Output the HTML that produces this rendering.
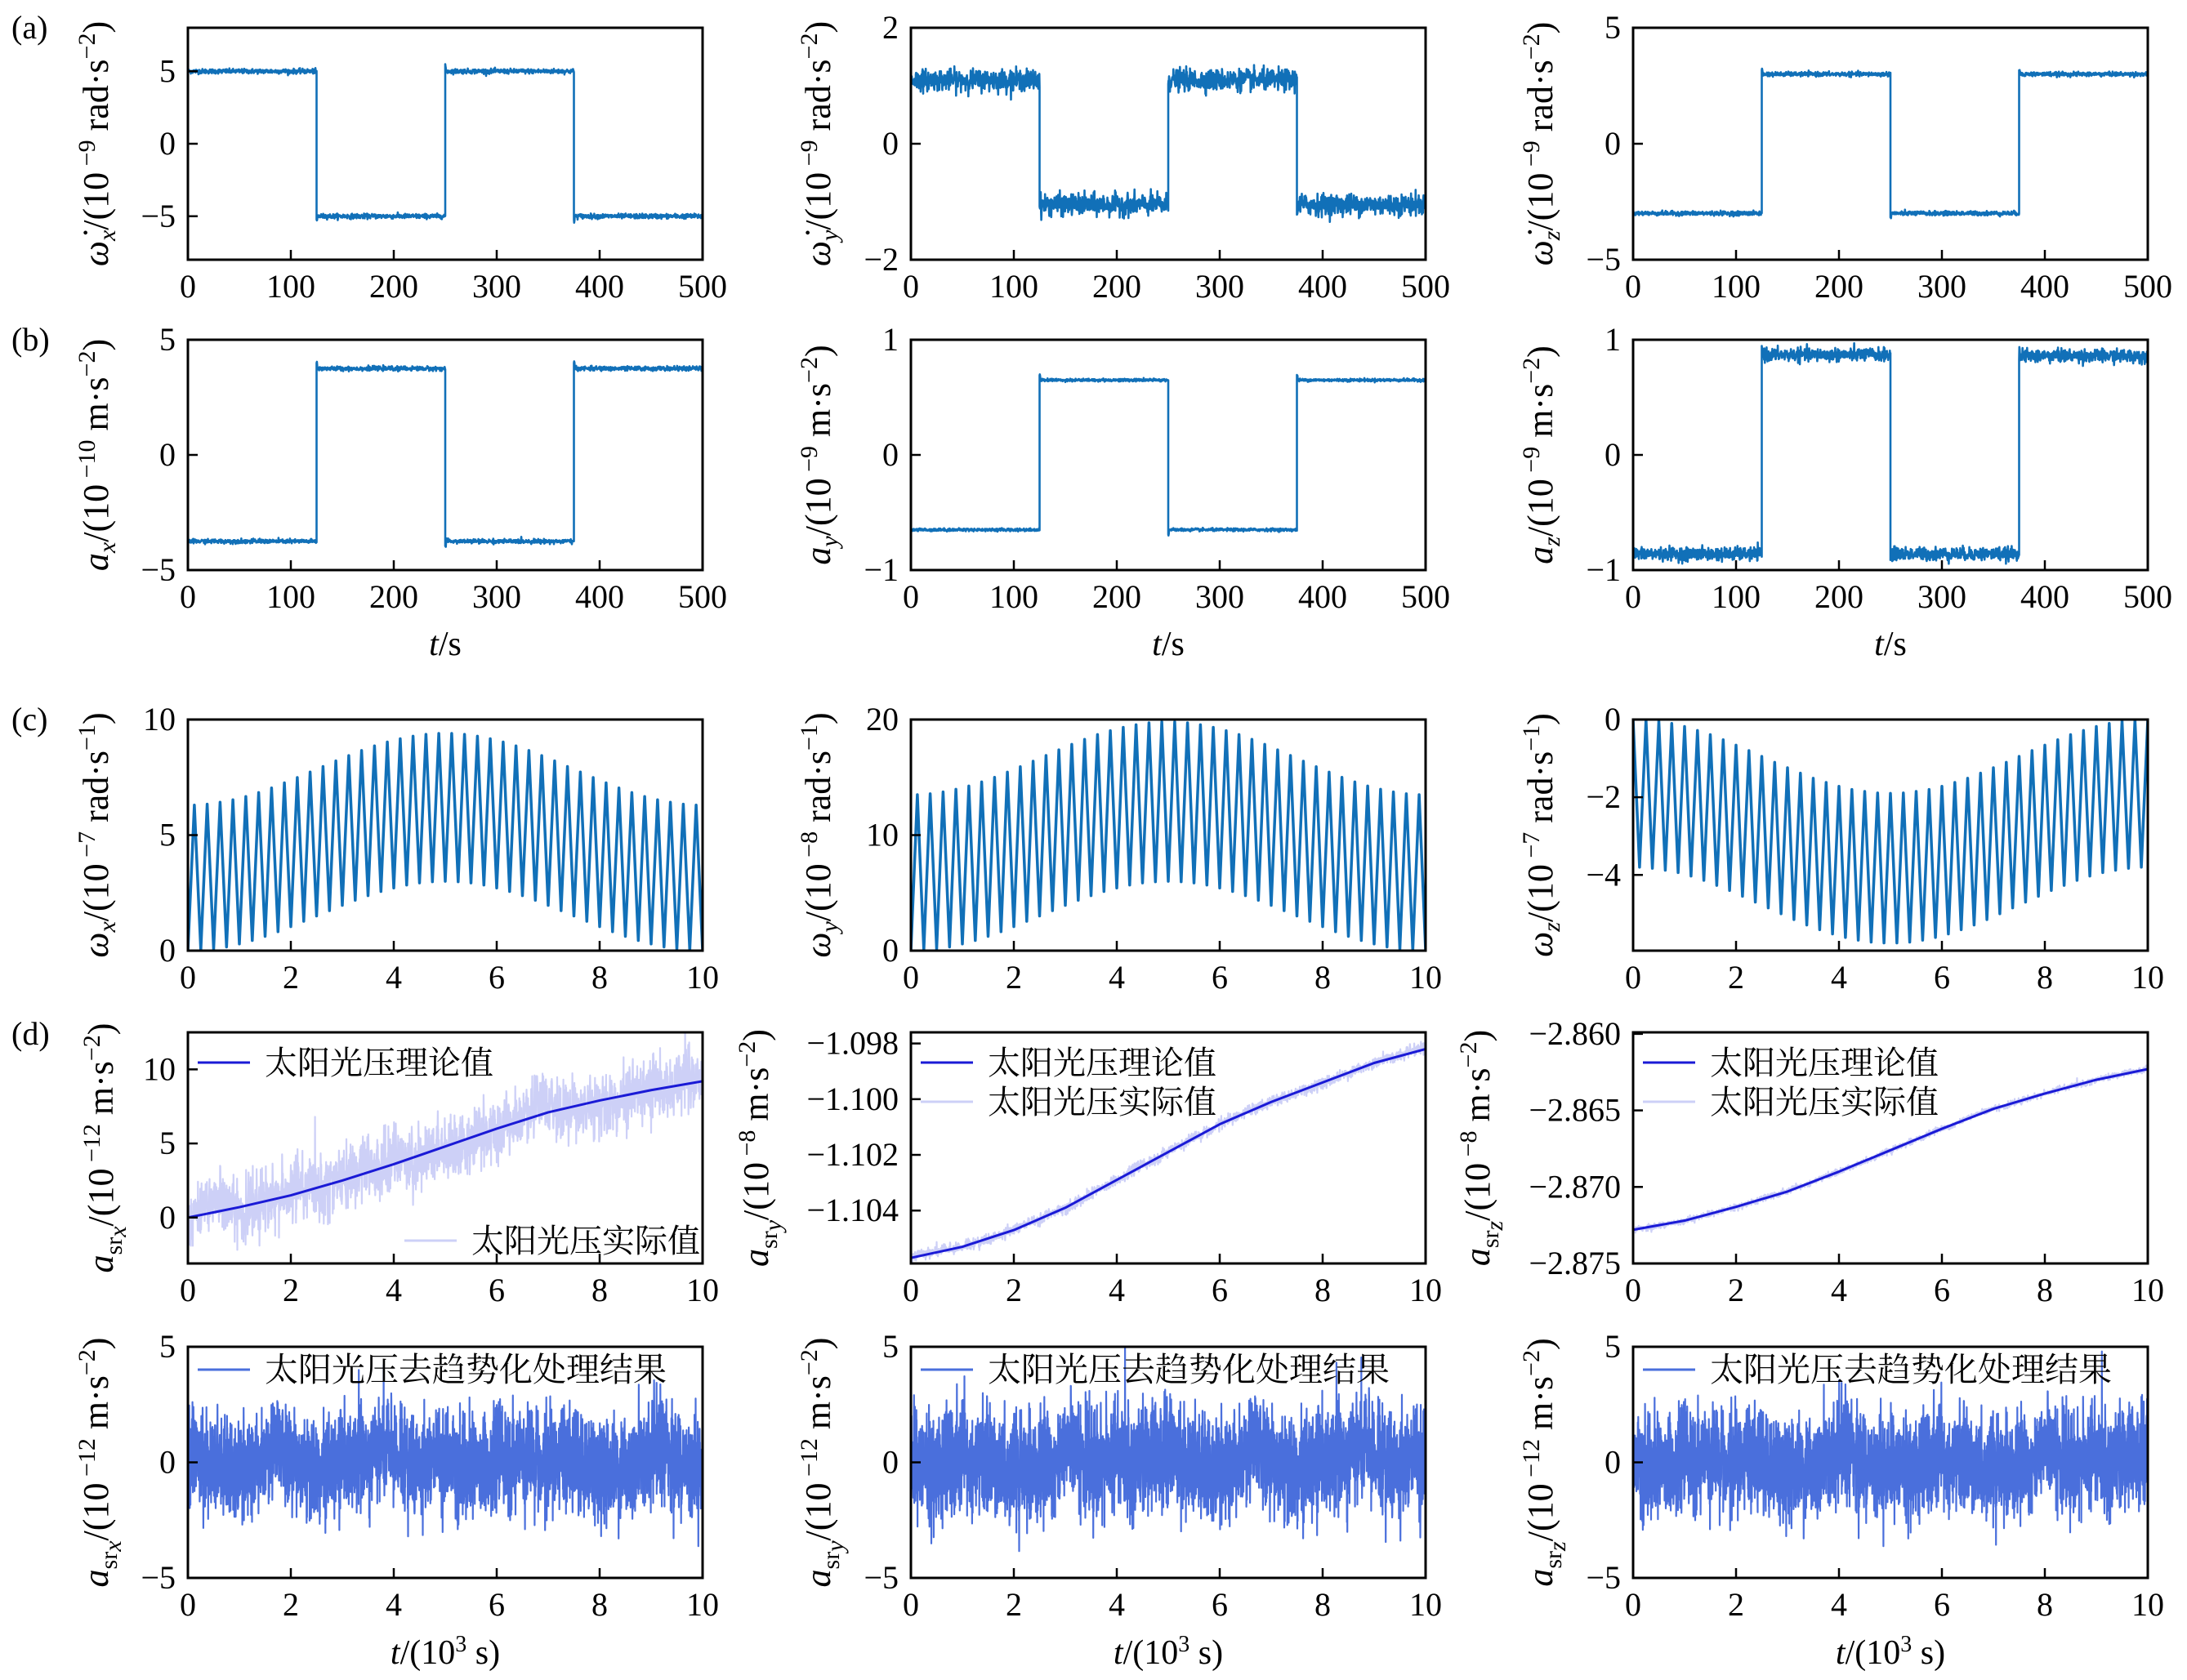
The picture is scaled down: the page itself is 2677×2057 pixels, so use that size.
<!DOCTYPE html>
<html><head><meta charset="utf-8"><style>
html,body{margin:0;padding:0;background:#fff}
svg{display:block}
text{font-family:"Liberation Serif","Noto Serif CJK SC",serif;fill:#000}
.cjk{font-family:"Liberation Serif","Noto Serif CJK SC","Noto Sans CJK SC",serif}
</style></head><body>
<svg id="fig" xmlns="http://www.w3.org/2000/svg" width="2677" height="2057" viewBox="0 0 2677 2057"></svg>
<script>
// ---------- data ----------
const sqSwitch=[0,125,250,375,500];
const axLevels=[5,-5,5,-5];
const ayLevels=[1.1,-1.05,1.1,-1.05];
const azLevels=[-3,3,-3,3];
const bxLevels=[-3.75,3.75,-3.75,3.75];
const byLevels=[-0.65,0.65,-0.65,0.65];
const bzLevels=[-0.86,0.87,-0.86,0.86];
const sqNoise=[0.08,0.09,0.045,0.045,0.006,0.028];

const cxPeaksHalf=[6.30,6.34,6.42,6.53,6.67,6.84,7.04,7.26,7.49,7.73,7.97,8.21,8.44,8.66,8.86,9.03,9.17,9.28,9.36,9.40];
const cxTroughsHalf=[0,0.02,0.07,0.16,0.29,0.44,0.62,0.82,1.04,1.27,1.5,1.73,1.96,2.18,2.38,2.56,2.71,2.84,2.93,2.98,3.0];
const cyPeaksHalf=[13.50,13.58,13.74,13.97,14.25,14.60,15.00,15.45,15.92,16.40,16.89,17.38,17.85,18.29,18.70,19.04,19.33,19.55,19.72,19.80];
const cyTroughsHalf=[0,0.04,0.14,0.32,0.58,0.88,1.24,1.64,2.08,2.54,3.0,3.46,3.92,4.36,4.76,5.12,5.42,5.68,5.86,5.96,6.0];
const czTopHalf=[0,-0.01,-0.04,-0.10,-0.18,-0.28,-0.39,-0.52,-0.66,-0.80,-0.95,-1.10,-1.24,-1.38,-1.51,-1.62,-1.72,-1.80,-1.85,-1.89,-1.90];
const czBottomHalf=[-3.80,-3.83,-3.88,-3.94,-4.03,-4.14,-4.27,-4.40,-4.55,-4.70,-4.85,-5.00,-5.15,-5.29,-5.41,-5.52,-5.61,-5.68,-5.73,-5.75];

const dT=[0,1,2,3,4,5,6,7,8,9,10];
const dxTheory=[0,0.7,1.5,2.5,3.6,4.8,6.0,7.1,7.9,8.6,9.2];
const dyTheory=[-1.1057,-1.1053,-1.1047,-1.1039,-1.1029,-1.1019,-1.1009,-1.1001,-1.0994,-1.0987,-1.0982];
const dzTheory=[-2.8728,-2.8722,-2.8713,-2.8703,-2.8690,-2.8676,-2.8662,-2.8649,-2.8639,-2.8630,-2.8623];
const dActualNoise=[1.3,0.00012,0.00012];
const detrendNoise=[1.3,1.4,1.3];

const tickSq=[0,100,200,300,400,500];
const tickK=[0,2,4,6,8,10];

// ---------- layout ----------
const svg=document.getElementById('fig');
const NS='http://www.w3.org/2000/svg';
const cols=[230,1115,1999], colW=630;
const rows=[[34,318],[416,698],[881,1164],[1264,1547],[1649,1932]];
const ylabX=[[118,1002,1886],[118,1002,1886],[118,1002,1886],[124,926,1809],[118,1002,1886]];
const BLUE='#1170b8';
let seed=12345;
function rnd(){seed=(seed*1103515245+12345)%2147483648;return seed/2147483648;}
function gauss(){let u=rnd()||1e-9,v=rnd();return Math.sqrt(-2*Math.log(u))*Math.cos(2*Math.PI*v);}
function el(tag,attrs,parent){const e=document.createElementNS(NS,tag);for(const k in attrs)e.setAttribute(k,attrs[k]);(parent||svg).appendChild(e);return e;}
function mirror(a,dropMid){const r=a.slice().reverse();return a.concat(dropMid?r.slice(1):r);}

function panel(name,ri,ci,xr,yr,yt,ytl,xt){
  const x0=cols[ci],x1=x0+colW,y0=rows[ri][0],y1=rows[ri][1];
  const g=el('g',{});
  
  
  const sx=v=>x0+(v-xr[0])/(xr[1]-xr[0])*(x1-x0);
  const sy=v=>y1-(v-yr[0])/(yr[1]-yr[0])*(y1-y0);
  const cid='c'+name;
  const cp=el('clipPath',{id:cid},g);el('rect',{x:x0,y:y0,width:x1-x0,height:y1-y0},cp);
  const plot=el('g',{'clip-path':'url(#'+cid+')'},g);
  const ax=el('g',{},g);
  
  
  xt.forEach(v=>{
    const X=sx(v);
    el('line',{x1:X,x2:X,y1:y1,y2:y1-12,stroke:'#000','stroke-width':2.5},ax);
    const t=el('text',{x:X,y:y1+46,'font-size':40,'text-anchor':'middle'},ax);t.textContent=String(v);
    
    
  });
  yt.forEach((v,i)=>{
    const Y=sy(v);
    el('line',{x1:x0,x2:x0+12,y1:Y,y2:Y,stroke:'#000','stroke-width':2.5},ax);
    const t=el('text',{x:x0-15,y:Y+13,'font-size':40,'text-anchor':'end'},ax);t.textContent=ytl[i];
    
    
  });
  el('rect',{x:x0,y:y0,width:x1-x0,height:y1-y0,fill:'none',stroke:'#000','stroke-width':3},g);
  return {g,plot,sx,sy,x0,x1,y0,y1};
}
function pathFrom(pts,sx,sy){let d='';pts.forEach((p,i)=>{d+=(i?'L':'M')+sx(p[0]).toFixed(1)+' '+sy(p[1]).toFixed(2);});return d;}
function addLine(P,pts,color,w,nm){const p=el('path',{d:pathFrom(pts,P.sx,P.sy),fill:'none',stroke:color,'stroke-width':w,'stroke-linejoin':'round'},P.plot);return p;}

function yLabel(ri,ci,parts){
  const cx=ylabX[ri][ci],cy=(rows[ri][0]+rows[ri][1])/2;
  const t=el('text',{x:0,y:0,'font-size':44,'text-anchor':'middle',transform:`translate(${cx+14},${cy}) rotate(-90)`});
  
  
  parts.forEach(p=>{const s=el('tspan',{},t);s.textContent=p[0];
    if(p[1].includes('i'))s.setAttribute('font-style','italic');
    if(p[1].includes('b')){s.setAttribute('font-size',30);s.setAttribute('dy',p[2]||9);}
    if(p[1].includes('p')){s.setAttribute('font-size',30);s.setAttribute('dy',p[2]||-16);}
    if(p[1].includes('n')){s.setAttribute('dy',p[2]);}
  });
}
function unitParts(sym,sub,exp,unit,uexp,srsub){
  const a=[[sym,'i']];
  if(srsub){a.push(['sr','b',11]);a.push([sub,'bi',5]);a.push(['/(10','n',-16]);}
  else {a.push([sub,'bi',9]);a.push(['/(10','n',-9]);}
  a.push([' '+exp,'p',-16]);a.push(['  '+unit,'n',16]);a.push([uexp,'p',-16]);a.push([')','n',16]);
  return a;
}

// ---------- square-wave panels ----------
function sqPanel(name,ri,ci,levels,noise,yr,yt,ytl){
  const P=panel(name,ri,ci,[0,500],yr,yt,ytl,tickSq);
  const pts=[];
  for(let s=0;s<levels.length;s++){
    const a=sqSwitch[s],b=sqSwitch[s+1],n=450;
    for(let k=0;k<=n;k++){const t=a+(b-a)*k/n;let v=levels[s]+noise*gauss();
      if(k<3&&s>0)v+= (levels[s]-levels[s-1])*0.03;pts.push([t,v]);}
  }
  addLine(P,pts,BLUE,2.6,name+'-series');
  return P;
}
const mt=v=>v<0?'\u2212'+Math.abs(v):String(v);
sqPanel('panel-a-x',0,0,axLevels,sqNoise[0],[-8,8],[-5,0,5],[-5,0,5].map(mt));
sqPanel('panel-a-y',0,1,ayLevels,sqNoise[1],[-2,2],[-2,0,2],[-2,0,2].map(mt));
sqPanel('panel-a-z',0,2,azLevels,sqNoise[2],[-5,5],[-5,0,5],[-5,0,5].map(mt));
sqPanel('panel-b-x',1,0,bxLevels,sqNoise[3],[-5,5],[-5,0,5],[-5,0,5].map(mt));
sqPanel('panel-b-y',1,1,byLevels,sqNoise[4],[-1,1],[-1,0,1],[-1,0,1].map(mt));
sqPanel('panel-b-z',1,2,bzLevels,sqNoise[5],[-1,1],[-1,0,1],[-1,0,1].map(mt));

// ---------- triangle panels ----------
function triPanel(name,ci,lowHalf,highHalf,yr,yt){
  const P=panel(name,2,ci,[0,10],yr,yt,yt.map(mt),tickK);
  const lows=mirror(lowHalf,true), highs=mirror(highHalf,false);
  const pts=[];
  for(let k=0;k<40;k++){pts.push([0.25*k,lows[k]]);pts.push([0.25*k+0.125,highs[k]]);}
  pts.push([10,lows[40]]);
  addLine(P,pts,BLUE,3.5,name+'-series');
}
triPanel('panel-c-x',0,cxTroughsHalf,cxPeaksHalf,[0,10],[0,5,10]);
triPanel('panel-c-y',1,cyTroughsHalf,cyPeaksHalf,[0,20],[0,10,20]);
triPanel('panel-c-z',2,czTopHalf,czBottomHalf,[-5.95,0],[-4,-2,0]);

// ---------- d panels ----------
function interp(t){const i=Math.min(9,Math.floor(t));return [i,t-i];}
function legendEntry(P,x,y,color,w,label,nm,fs){
  const g=el('g',{},P.g);
  
  
  el('line',{x1:x,x2:x+64,y1:y,y2:y,stroke:color,'stroke-width':w},g);
  const t=el('text',{x:x+82,y:y+14,'font-size':fs||40,class:'cjk'},g);t.textContent=label;
}
const THEORY='#1a1ad6', ACTUAL='#cdd0f7', DET='#4a6fdc';
function dPanel(name,ci,theory,noise,yr,yt,ytl,legendMode){
  const P=panel(name,3,ci,[0,10],yr,yt,ytl,tickK);
  const act=[];let lf=0;
  for(let k=0;k<=2000;k++){const t=10*k/2000;const [i,f]=interp(t);
    const base=theory[i]+(theory[i+1]-theory[i])*f; lf=0.97*lf+0.03*gauss()*4;
    act.push([t,base+noise*(0.8*gauss()+0.5*lf)]);}
  addLine(P,act,ACTUAL,2.2,name+'-actual');
  addLine(P,dT.map((t,i)=>[t,theory[i]]),THEORY,3,name+'-theory');
  if(legendMode===0){legendEntry(P,P.x0+12,P.y0+37,THEORY,3,'太阳光压理论值','legend-theory');
    legendEntry(P,P.x0+265,P.y0+255,ACTUAL,3,'太阳光压实际值','legend-actual');}
  else{legendEntry(P,P.x0+12,P.y0+37,THEORY,3,'太阳光压理论值','legend-theory');
    legendEntry(P,P.x0+12,P.y0+85,ACTUAL,3,'太阳光压实际值','legend-actual');}
}
dPanel('panel-d-x',0,dxTheory,dActualNoise[0],[-3.1,12.5],[0,5,10],['0','5','10'],0);
dPanel('panel-d-y',1,dyTheory,dActualNoise[1],[-1.1059,-1.0976],[-1.104,-1.102,-1.100,-1.098],['\u22121.104','\u22121.102','\u22121.100','\u22121.098'],1);
dPanel('panel-d-z',2,dzTheory,dActualNoise[2],[-2.875,-2.8599],[-2.875,-2.870,-2.865,-2.860],['\u22122.875','\u22122.870','\u22122.865','\u22122.860'],1);

function detPanel(name,ci,sd){
  const P=panel(name,4,ci,[0,10],[-5,5],[-5,0,5],[-5,0,5].map(mt),tickK);
  const pts=[];let lf=0;
  for(let k=0;k<=3500;k++){const t=10*k/3500;lf=0.99*lf+0.01*gauss()*6;
    pts.push([t,sd*(0.8*gauss()+0.5*lf)]);}
  addLine(P,pts,DET,2.2,name+'-series');
  legendEntry(P,P.x0+12,P.y0+28,DET,3,'太阳光压去趋势化处理结果','legend-detrended',41);
}
detPanel('panel-d2-x',0,detrendNoise[0]);
detPanel('panel-d2-y',1,detrendNoise[1]);
detPanel('panel-d2-z',2,detrendNoise[2]);

// ---------- labels ----------
const dot='\u03C9\u0307';
yLabel(0,0,unitParts(dot,'x','\u22129','rad\u00B7s','\u22122'));
yLabel(0,1,unitParts(dot,'y','\u22129','rad\u00B7s','\u22122'));
yLabel(0,2,unitParts(dot,'z','\u22129','rad\u00B7s','\u22122'));
yLabel(1,0,unitParts('a','x','\u221210','m\u00B7s','\u22122'));
yLabel(1,1,unitParts('a','y','\u22129','m\u00B7s','\u22122'));
yLabel(1,2,unitParts('a','z','\u22129','m\u00B7s','\u22122'));
yLabel(2,0,unitParts('\u03C9','x','\u22127','rad\u00B7s','\u22121'));
yLabel(2,1,unitParts('\u03C9','y','\u22128','rad\u00B7s','\u22121'));
yLabel(2,2,unitParts('\u03C9','z','\u22127','rad\u00B7s','\u22121'));
yLabel(3,0,unitParts('a','x','\u221212','m\u00B7s','\u22122',true));
yLabel(3,1,unitParts('a','y','\u22128','m\u00B7s','\u22122',true));
yLabel(3,2,unitParts('a','z','\u22128','m\u00B7s','\u22122',true));
yLabel(4,0,unitParts('a','x','\u221212','m\u00B7s','\u22122',true));
yLabel(4,1,unitParts('a','y','\u221212','m\u00B7s','\u22122',true));
yLabel(4,2,unitParts('a','z','\u221212','m\u00B7s','\u22122',true));

[['(a)',34],['(b)',416],['(c)',881],['(d)',1266]].forEach(p=>{
  const t=el('text',{x:14,y:p[1]+13,'font-size':40});t.textContent=p[0];
  
  
});
cols.forEach(x=>{
  const t=el('text',{x:x+colW/2,y:802,'font-size':42,'text-anchor':'middle'});
  
  
  const a=el('tspan',{'font-style':'italic'},t);a.textContent='t';
  const b=el('tspan',{},t);b.textContent='/s';
  const t2=el('text',{x:x+colW/2,y:2037,'font-size':42,'text-anchor':'middle'});
  
  
  const c=el('tspan',{'font-style':'italic'},t2);c.textContent='t';
  const d=el('tspan',{},t2);d.textContent='/(10';
  const e=el('tspan',{'font-size':28,dy:-15},t2);e.textContent='3';
  const f=el('tspan',{dy:15},t2);f.textContent=' s)';
});
</script>
</body></html>
